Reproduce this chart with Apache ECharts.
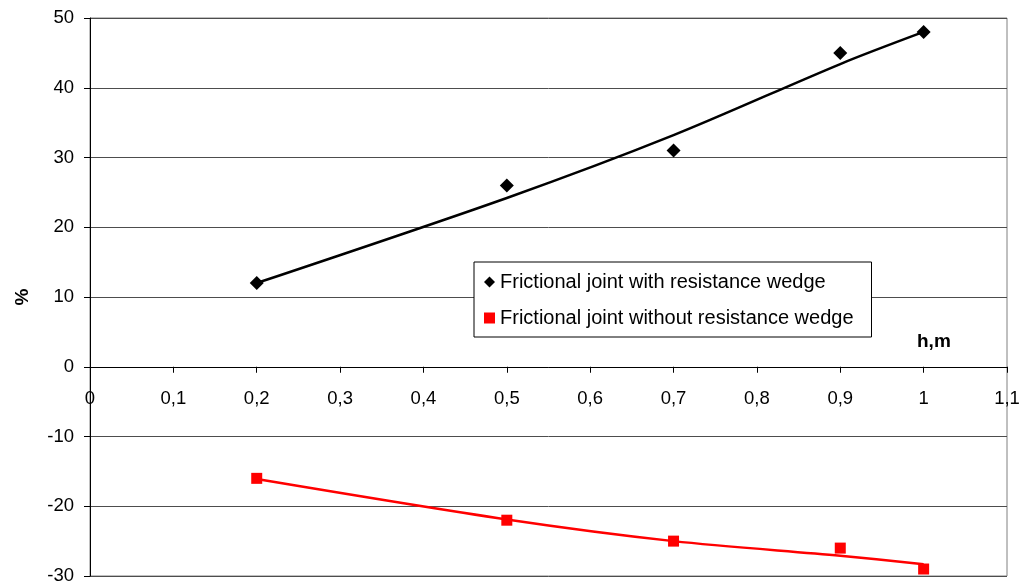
<!DOCTYPE html>
<html>
<head>
<meta charset="utf-8">
<script src="https://cdn.jsdelivr.net/npm/echarts@6/dist/echarts.min.js"></script>
<style>
html,body{margin:0;padding:0;background:#fff;}
#chart{width:1022px;height:585px;}
</style>
</head>
<body>
<div id="chart"></div>
<script>
// Data
var xValues = [0.2, 0.5, 0.7, 0.9, 1.0];
var withWedge = [12, 26, 31, 45, 48];
var withoutWedge = [-16, -22, -25, -26, -29];
// Trend lines
var withWedgeTrend = [12, 24.2, 33.2, 43.4, 48];
var withoutWedgeTrend = [-16.1, -21.9, -25.0, -27.1, -28.3];
var seriesNames = ['Frictional joint with resistance wedge', 'Frictional joint without resistance wedge'];
var yTicks = {min: -30, max: 50, step: 10};
var xTicks = {min: 0, max: 1.1, step: 0.1};

function pairs(xs, ys) { return xs.map(function (x, i) { return [x, ys[i]]; }); }

var gridTop = 18, gridBottom = 9, chartH = 585;
var plotH = chartH - gridTop - gridBottom;
// move the x axis up so that it sits on y = 0
var xAxisOffset = -plotH * (0 - yTicks.min) / (yTicks.max - yTicks.min);

var chart = echarts.init(document.getElementById('chart'));
var font = 'Liberation Sans, Arial, sans-serif';
chart.setOption({
  animation: false,
  backgroundColor: '#fff',
  grid: {left: 90, right: 15, top: gridTop, bottom: gridBottom, show: true, borderColor: '#808080', borderWidth: 1,
         containLabel: false, outerBoundsMode: 'none'},
  legend: {
    orient: 'vertical', left: 474, top: 262,
    data: [{name: seriesNames[0], icon: 'diamond'}, {name: seriesNames[1], icon: 'rect'}],
    itemWidth: 11, itemHeight: 11, itemGap: 16,
    padding: [10, 18, 9, 10],
    borderColor: '#000', borderWidth: 1, backgroundColor: '#fff',
    textStyle: {fontFamily: font, fontSize: 20, color: '#000'}
  },
  graphic: [{
    type: 'text', left: 917, top: 332,
    style: {text: 'h,m', font: 'bold 19px ' + font, fill: '#000'}
  }],
  xAxis: {
    type: 'value', min: xTicks.min, max: xTicks.max, interval: xTicks.step,
    position: 'bottom', offset: xAxisOffset,
    axisLine: {onZero: false, lineStyle: {color: '#000', width: 1}},
    axisTick: {show: true, inside: false, length: 6, lineStyle: {color: '#000', width: 1}},
    axisLabel: {
      margin: 23, color: '#000', fontFamily: font, fontSize: 18.5,
      formatter: function (v) { return String(Math.round(v * 10) / 10).replace('.', ','); }
    },
    splitLine: {show: false}
  },
  yAxis: {
    type: 'value', min: yTicks.min, max: yTicks.max, interval: yTicks.step,
    name: '%', nameLocation: 'middle', nameGap: 58, nameRotate: 90,
    nameTextStyle: {fontFamily: font, fontSize: 19, fontWeight: 'bold', color: '#000'},
    axisLine: {show: true, onZero: false, lineStyle: {color: '#000', width: 1}},
    axisTick: {show: true, length: 6, lineStyle: {color: '#000'}},
    axisLabel: {margin: 16, color: '#000', fontFamily: font, fontSize: 18.5},
    splitLine: {show: true, lineStyle: {color: '#4d4d4d', width: 1}}
  },
  series: [
    {
      name: seriesNames[0] + ' trend', type: 'line', data: pairs(xValues, withWedgeTrend),
      smooth: 0.3, showSymbol: false, silent: true, z: 2,
      lineStyle: {color: '#000', width: 2.5}, itemStyle: {color: '#000'}
    },
    {
      name: seriesNames[1] + ' trend', type: 'line', data: pairs(xValues, withoutWedgeTrend),
      smooth: 0.3, showSymbol: false, silent: true, z: 2,
      lineStyle: {color: '#ff0000', width: 2.5}, itemStyle: {color: '#ff0000'}
    },
    {
      name: seriesNames[0], type: 'scatter', data: pairs(xValues, withWedge),
      symbol: 'diamond', symbolSize: 14, z: 3, itemStyle: {color: '#000', opacity: 1}
    },
    {
      name: seriesNames[1], type: 'scatter', data: pairs(xValues, withoutWedge),
      symbol: 'rect', symbolSize: 11, z: 3, itemStyle: {color: '#ff0000', opacity: 1}
    }
  ]
});
</script>
</body>
</html>
